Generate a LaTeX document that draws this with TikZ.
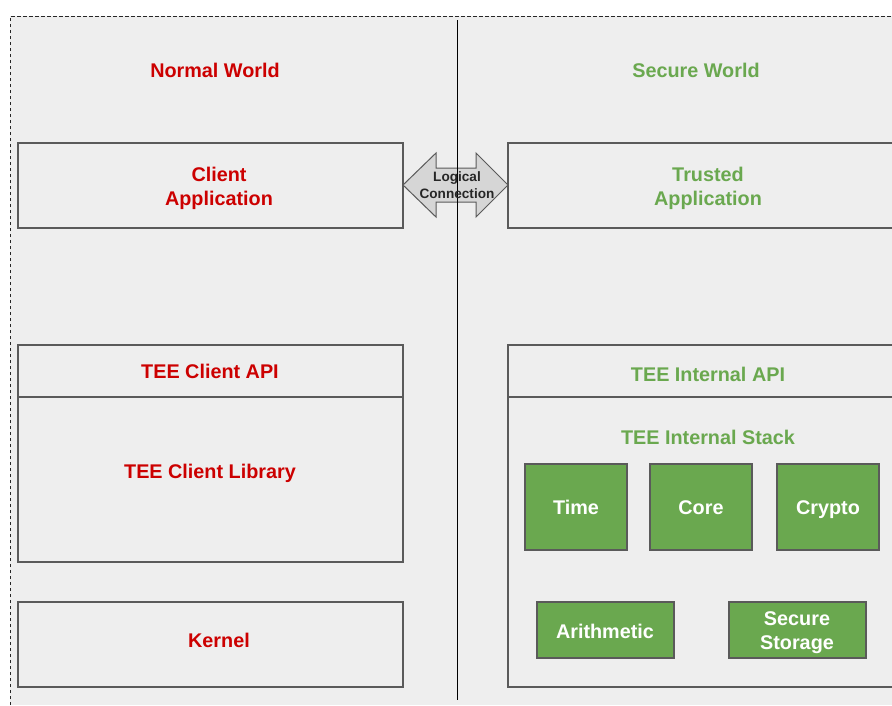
\documentclass[tikz,border=0pt]{standalone}
\usepackage{fontspec}
\setmainfont{Liberation Sans}
\begin{document}
\begin{tikzpicture}[x=1pt,y=-1pt,
  every node/.style={font=\bfseries\fontsize{19.8}{24}\selectfont, align=center, inner sep=0pt},
  panel/.style={draw=boxgray, line width=1.1pt},
  greenbox/.style={draw=boxgray, line width=1.1pt, fill=tgreen},
  redtxt/.style={text=tred},
  greentxt/.style={text=tgreen},
  whitetxt/.style={text=white}]
\definecolor{bggray}{HTML}{EEEEEE}
\definecolor{boxgray}{HTML}{5A5A5A}
\definecolor{tred}{HTML}{CC0000}
\definecolor{tgreen}{HTML}{6AA84F}
\definecolor{arrowfill}{HTML}{D6D6D6}
\useasboundingbox (0,0) rectangle (892,705);
\fill[white] (0,0) rectangle (892,705);
\fill[bggray] (10,16) rectangle (892,705);
\draw[black!85, dash pattern=on 3.5pt off 2.5pt, line width=0.8pt] (10,705) -- (10,16) -- (892,16);
% titles
\node[redtxt] (nw) at (215,70) {Normal World};
\node[greentxt] (sw) at (696,70) {Secure World};
% left column
\draw[panel] (18,143) rectangle (403,228);
\node[redtxt] (ca) at (219,188) {Client\\Application};
\draw[panel] (18,345) rectangle (403,562);
\draw[panel] (18,397) -- (403,397);
\node[redtxt] (capi) at (210,371) {TEE Client API};
\node[redtxt] (clib) at (210,473) {TEE Client Library};
\draw[panel] (18,602) rectangle (403,687);
\node[redtxt] (kern) at (219,640) {Kernel};
% right column
\draw[panel] (508,143) rectangle (900,228);
\node[greentxt] (ta) at (708,188) {Trusted\\Application};
\draw[panel] (508,345) rectangle (900,687);
\draw[panel] (508,397) -- (900,397);
\node[greentxt] (iapi) at (708,374) {TEE Internal API};
\node[greentxt] (istack) at (708,437) {TEE Internal Stack};
\draw[greenbox] (525,464) rectangle (627,550);
\node[whitetxt] (time) at (576,507) {Time};
\draw[greenbox] (650,464) rectangle (752,550);
\node[whitetxt] (core) at (701,508) {Core};
\draw[greenbox] (777,464) rectangle (879,550);
\node[whitetxt] (crypto) at (828,509.5) {Crypto};
\draw[greenbox] (537,602) rectangle (674,658);
\node[whitetxt] (arith) at (605,631) {Arithmetic};
\draw[greenbox] (729,602) rectangle (866,658);
\node[whitetxt] (store) at (797,632.5) {Secure\\Storage};
% logical connection arrow
\draw[boxgray, line width=1pt, fill=arrowfill, line join=miter]
  (403,185) -- (436,153) -- (436,168) -- (476,168) -- (476,153) -- (508,185)
  -- (476,217) -- (476,202) -- (436,202) -- (436,217) -- cycle;
\draw[black, line width=1pt] (457,20) -- (457,700);
\node[font=\bfseries\fontsize{13.6}{17}\selectfont, text=black!85] (lc) at (457,185.5) {Logical\\Connection};
\end{tikzpicture}
\end{document}
